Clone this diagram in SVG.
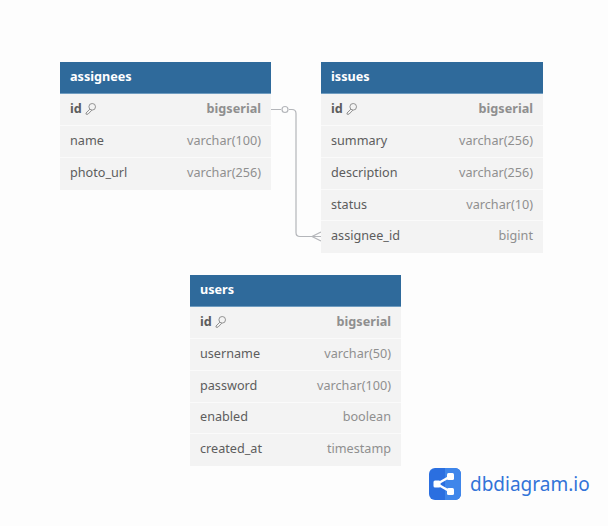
<svg xmlns="http://www.w3.org/2000/svg" width="608" height="526" viewBox="0 0 608 526">
<style>
text{font-family:"Noto Sans","Open Sans",sans-serif;font-size:12.65px}
.hd{fill:#2f6a9b}.hl{fill:#6f9cc0}.row{fill:#f3f3f3}.sep{stroke:#fafafa;stroke-width:1}
.t{fill:#fff;font-weight:700}.n{fill:#5d5d5d}.ty{fill:#8f8f8f;text-anchor:end}.b{font-weight:700}
.c{fill:none;stroke:#b4b6ba;stroke-width:1.2}
</style>
<defs>
<g id="key" fill="none" stroke="#7a7a7a" stroke-width="0.8"><circle cx="7.200" cy="3.800" r="3.300"/><path d="M4.800 6.200L1 10 1 11.200 3 11.200 6.800 7.200"/></g>
</defs>
<rect width="608" height="526" fill="#fdfdfd"/>
<g id="connectors">
<path class="c" d="M271 109.500H281M289 109.500H292Q296 109.500 296 113.500V232.500Q296 236.500 300 236.500H321"/>
<circle class="c" cx="285" cy="109.500" r="3" fill="#fdfdfd"/>
<path class="c" d="M321 232L312 236.500 321 241"/>
</g>
<g id="assignees">
<rect class="row" x="60" y="62" width="211" height="128"/>
<rect class="hd" x="60" y="62" width="211" height="31"/><rect class="hl" x="60" y="93" width="211" height="1"/>
<path class="sep" d="M60 125.500H271M60 157.500H271"/>
<text class="t" x="70" y="81">assignees</text>
<text class="n b" x="70" y="113">id</text><use href="#key" x="85" y="103"/><text class="ty b" x="261" y="113">bigserial</text>
<text class="n" x="70" y="145">name</text><text class="ty" x="261" y="145">varchar(100)</text>
<text class="n" x="70" y="177">photo_url</text><text class="ty" x="261" y="177">varchar(256)</text>
</g>
<g id="issues">
<rect class="row" x="321" y="62" width="222" height="191"/>
<rect class="hd" x="321" y="62" width="222" height="31"/><rect class="hl" x="321" y="93" width="222" height="1"/>
<path class="sep" d="M321 125.500H543M321 157.500H543M321 189.500H543M321 220.500H543"/>
<text class="t" x="331" y="81">issues</text>
<text class="n b" x="331" y="113">id</text><use href="#key" x="346" y="103"/><text class="ty b" x="533" y="113">bigserial</text>
<text class="n" x="331" y="145">summary</text><text class="ty" x="533" y="145">varchar(256)</text>
<text class="n" x="331" y="177">description</text><text class="ty" x="533" y="177">varchar(256)</text>
<text class="n" x="331" y="209">status</text><text class="ty" x="533" y="209">varchar(10)</text>
<text class="n" x="331" y="240">assignee_id</text><text class="ty" x="533" y="240">bigint</text>
</g>
<g id="users">
<rect class="row" x="190" y="275" width="211" height="191"/>
<rect class="hd" x="190" y="275" width="211" height="31"/><rect class="hl" x="190" y="306" width="211" height="1"/>
<path class="sep" d="M190 338.500H401M190 370.500H401M190 402.500H401M190 433.500H401"/>
<text class="t" x="200" y="294">users</text>
<text class="n b" x="200" y="326">id</text><use href="#key" x="215" y="316"/><text class="ty b" x="391" y="326">bigserial</text>
<text class="n" x="200" y="358">username</text><text class="ty" x="391" y="358">varchar(50)</text>
<text class="n" x="200" y="390">password</text><text class="ty" x="391" y="390">varchar(100)</text>
<text class="n" x="200" y="421">enabled</text><text class="ty" x="391" y="421">boolean</text>
<text class="n" x="200" y="453">created_at</text><text class="ty" x="391" y="453">timestamp</text>
</g>
<g id="logo">
<rect x="429" y="468" width="32" height="32" rx="6" fill="#2b6fe0"/>
<path d="M445 468h10a6 6 0 0 1 6 6v20a6 6 0 0 1-6 6h-10z" fill="#3f86ea"/>
<path d="M437 484L451 476M437 484L451 492" stroke="#fff" stroke-width="2.500" fill="none"/>
<rect x="433.500" y="480.500" width="7" height="7" rx="1.500" fill="#fff"/><rect x="447" y="473" width="7" height="7" rx="1.500" fill="#fff"/><rect x="447" y="488" width="7" height="7" rx="1.500" fill="#fff"/>
<text x="470" y="491" style="font-size:19px;fill:#3273d8">dbdiagram.io</text>
</g>
</svg>
